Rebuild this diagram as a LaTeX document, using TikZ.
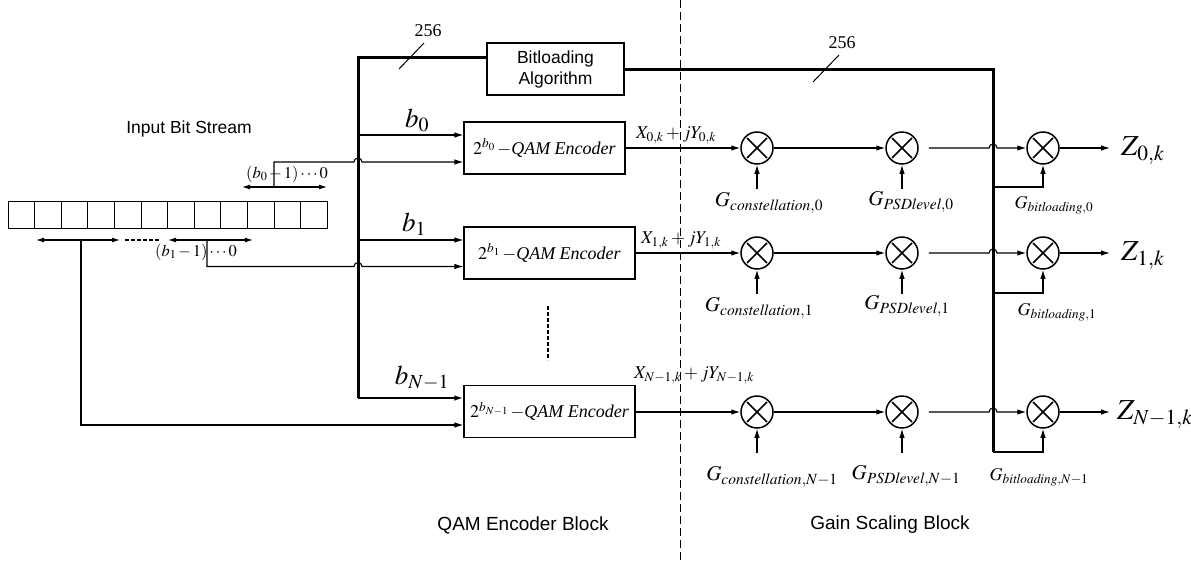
\documentclass[tikz,border=0pt]{standalone}
\usepackage{mathptmx}
\usepackage{fontspec}
\setmainfont{Liberation Serif}
\setsansfont{Liberation Sans}
\usetikzlibrary{arrows.meta}
\begin{document}
\begin{tikzpicture}[x=1pt,y=-1pt,
  line/.style={line width=1.1pt},
  bus/.style={line width=3pt,line join=miter},
  arr/.style={line width=1.1pt,-{Latex[length=9pt,width=5.5pt]}},
  darr/.style={line width=1.1pt,{Latex[length=8pt,width=5pt]}-{Latex[length=8pt,width=5pt]}},
  dots/.style={line width=1.2pt,dash pattern=on 4pt off 2pt},
  enc/.style={draw,line width=1.1pt,minimum height=52pt,inner sep=0pt,font=\fontsize{18}{22}\selectfont},
  mult/.style={circle,draw,line width=1.5pt,minimum size=32pt,inner sep=0pt,
    path picture={\draw[line width=1.5pt]
      ([shift={(-10pt,-10pt)}]path picture bounding box.center) -- ([shift={(10pt,10pt)}]path picture bounding box.center)
      ([shift={(-10pt,10pt)}]path picture bounding box.center) -- ([shift={(10pt,-10pt)}]path picture bounding box.center);}},
  cell/.style={draw,line width=0.9pt,minimum width=26.6pt,minimum height=27pt,inner sep=0pt},
  sanslbl/.style={font=\sffamily\fontsize{17.5}{21}\selectfont},
  blocklbl/.style={font=\sffamily\fontsize{19}{22}\selectfont},
  bl/.style={font=\fontsize{27}{30}\selectfont,inner sep=0pt},
  xl/.style={font=\fontsize{18}{20}\selectfont,inner sep=0pt},
  gl/.style={font=\fontsize{21}{24}\selectfont,inner sep=0pt},
  gbl/.style={font=\fontsize{18}{21}\selectfont,inner sep=0pt},
  zl/.style={font=\fontsize{29}{32}\selectfont,inner sep=0pt,anchor=west},
  rl/.style={font=\fontsize{16.5}{18}\selectfont,inner sep=0pt},
  num/.style={font=\fontsize{18}{20}\selectfont,inner sep=0pt}
]
\useasboundingbox (0,0) rectangle (1191,560);

% divider
\draw[line width=1pt,dash pattern=on 8pt off 4pt] (680,0) -- (680,560);

% bit stream
\node[sanslbl] (ibs) at (189,129) {Input Bit Stream};
\foreach \i in {0,...,11} \node[cell] (c\i) at ({8+26.6*\i+13.3},214.5) {};

% b0 range
\coordinate (r0a) at (242,187);
\coordinate (r0b) at (327,187);
\coordinate (r0t) at (274,187);
\draw[darr] (r0a) -- (r0b);
\node[rl] (r0l) at (287,174) {$(b_0\,{-}\,1)\cdots 0$};

% b1 range
\coordinate (r1a) at (36,240);
\coordinate (r1b) at (120,240);
\coordinate (r1c) at (168,240);
\coordinate (r1d) at (253,240);
\coordinate (r1t) at (207,240);
\coordinate (rNt) at (81,240);
\draw[darr] (r1a) -- (r1b);
\draw[darr] (r1c) -- (r1d);
\draw[dots] (125,240) -- (160,240);
\node[rl] (r1l) at (196,252) {$(b_1\,{-}\,1)\cdots 0$};

% encoders
\node[enc,minimum width=161pt] (e0) at (544.5,148) {$2^{b_0}\,{-}$\textit{QAM\ Encoder}};
\node[enc,minimum width=171pt] (e1) at (549.5,253) {$2^{b_1}\,{-}$\textit{QAM\ Encoder}};
\node[enc,minimum width=171pt] (eN) at (549.5,411.5) {$2^{b_{N-1}}\,{-}$\textit{QAM\ Encoder}};
\draw[dots] (548,306) -- (548,360);

% bitloading
\node[draw,line width=1.1pt,sanslbl,minimum width=137pt,minimum height=52pt,align=center,inner sep=0pt] (bla) at (555.5,69) {Bitloading\\Algorithm};

% bus
\coordinate (bustop) at (358,57);
\coordinate (busbot) at (358,398);
\draw[bus] (busbot) -- (bustop) -- (bla.west |- bustop);
\draw[line width=1pt] (399,69) -- (424,43);
\node[num] (n1) at (428,31) {256};
\draw[arr,line width=1.7pt] (busbot) -- ([yshift=13.5pt]eN.west);
\draw[arr] (358,135) -- ([yshift=13pt]e0.west);
\draw[arr] (358,240) -- ([yshift=13pt]e1.west);
\node[bl] (b0) at (417,120) {$b_0$};
\node[bl] (b1) at (414,224) {$b_1$};
\node[bl] (bN) at (422,378) {$b_{N-1}$};

% bit paths to encoders
\draw[arr] (r0t) -- (274,162) -- (354,162) arc[start angle=180,end angle=0,radius=4pt] -- ([yshift=-14pt]e0.west);
\draw[arr] (r1t) -- (207,266.5) -- (354,266.5) arc[start angle=180,end angle=0,radius=4pt] -- ([yshift=-13.5pt]e1.west);
\draw[arr] (rNt) -- (81,425) -- ([yshift=-13.5pt]eN.west);

% multipliers
\node[mult] (m00) at (757,148) {};
\node[mult] (m01) at (902,148) {};
\node[mult] (m02) at (1043,148) {};
\node[mult] (m10) at (757,253) {};
\node[mult] (m11) at (902,253) {};
\node[mult] (m12) at (1043,253) {};
\node[mult] (m20) at (757,412) {};
\node[mult] (m21) at (902,412) {};
\node[mult] (m22) at (1043,412) {};

% encoder outputs
\draw[arr] (e0.east) -- (m00.west);
\draw[arr] (e1.east) -- (m10.west);
\draw[arr] (eN.east |- m20.west) -- (m20.west);
\node[xl] (x0) at (676,135) {$X_{0,k}+jY_{0,k}$};
\node[xl] (x1) at (681,240) {$X_{1,k}+jY_{1,k}$};
\node[xl] (xN) at (694,375) {$X_{N-1,k}+jY_{N-1,k}$};

% first to second multipliers
\draw[arr] (m00.east) -- (m01.west);
\draw[arr] (m10.east) -- (m11.west);
\draw[arr] (m20.east) -- (m21.west);

% bitloading output bus
\draw[bus] (bla.east) -- (993,69) -- (993,452);
\draw[line width=1pt] (813,82) -- (839,55);
\node[num] (n2) at (842,43) {256};

% second to third multipliers with hops
\draw[arr] ([xshift=10pt]m01.east) -- (989,148) arc[start angle=180,end angle=0,radius=4pt] -- (m02.west);
\draw[arr] ([xshift=10pt]m11.east) -- (989,253) arc[start angle=180,end angle=0,radius=4pt] -- (m12.west);
\draw[arr] ([xshift=10pt]m21.east) -- (989,412) arc[start angle=180,end angle=0,radius=4pt] -- (m22.west);

% gain inputs
\foreach \m in {m00,m01,m10,m11,m20,m21}
  \draw[arr] ([yshift=-24pt]\m.south) -- (\m.south);
\draw[arr] (993,187) -- (1043,187) -- (m02.south);
\draw[arr] (993,293) -- (1043,293) -- (m12.south);
\draw[arr] (993,452) -- (1043,452) -- (m22.south);

% outputs
\draw[arr] (m02.east) -- (1110,148);
\draw[arr] (m12.east) -- (1110,253);
\draw[arr] (m22.east) -- (1110,412);
\node[zl] (z0) at (1121,151) {$Z_{0,k}$};
\node[zl] (z1) at (1121,256) {$Z_{1,k}$};
\node[zl] (zN) at (1117,415) {$Z_{N-1,k}$};

% gain labels
\node[gl] (g00) at (769,203) {$G_{\mathit{constellation},0}$};
\node[gl] (g01) at (911,202) {$G_{\mathit{PSDlevel},0}$};
\node[gbl] (g02) at (1054,205) {$G_{\mathit{bitloading},0}$};
\node[gl] (g10) at (759,308) {$G_{\mathit{constellation},1}$};
\node[gl] (g11) at (907,306) {$G_{\mathit{PSDlevel},1}$};
\node[gbl] (g12) at (1057,312) {$G_{\mathit{bitloading},1}$};
\node[gl] (g20) at (772,477) {$G_{\mathit{constellation},N-1}$};
\node[gl] (g21) at (906,476) {$G_{\mathit{PSDlevel},N-1}$};
\node[gbl] (g22) at (1039,477) {$G_{\mathit{bitloading},N-1}$};

% block labels
\node[blocklbl] (qb) at (523,525) {QAM Encoder Block};
\node[blocklbl] (gb) at (890,525) {Gain Scaling Block};
\end{tikzpicture}
\end{document}
